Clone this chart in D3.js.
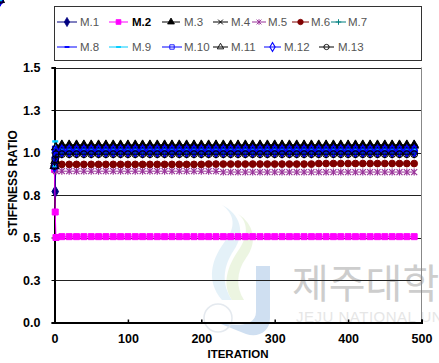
<!DOCTYPE html>
<html>
<head>
<meta charset="utf-8">
<script src="https://cdn.jsdelivr.net/npm/d3@7"></script>
<style>
  html, body { margin: 0; padding: 0; background: #fff; }
  svg { display: block; font-family: "Liberation Sans", Arial, sans-serif; }
</style>
</head>
<body>
<svg id="chart" width="439" height="363"></svg>
<script>
// ---- data ----
const iterations = [0, 1, 2, 10, 20, 30, 40, 50, 60, 70, 80, 90, 100, 110, 120, 130, 140, 150, 160, 170, 180, 190, 200,
  210, 220, 230, 240, 250, 260, 270, 280, 290, 300, 310, 320, 330, 340, 350, 360, 370, 380, 390, 400,
  410, 420, 430, 440, 450, 460, 470, 480, 490, 500];

const seriesNames = ["M.1", "M.2", "M.3", "M.4", "M.5", "M.6", "M.7", "M.8", "M.9", "M.10", "M.11", "M.12", "M.13"];

const m1 = [0.92, 0.77, 0.97,
  1.00, 1.00, 1.00, 1.00, 1.00, 1.00, 1.00, 1.00, 1.00, 1.00, 1.00, 1.00, 1.00, 1.00, 1.00, 1.00, 1.00, 1.00, 1.00, 1.00, 1.00, 1.00, 1.00, 1.00, 1.00,
  1.00, 1.00, 1.00, 1.00, 1.00, 1.00, 1.00, 1.00, 1.00, 1.00, 1.00, 1.00, 1.00, 1.00, 1.00, 1.00, 1.00, 1.00, 1.00, 1.00, 1.00, 1.00, 1.00, 1.00];
const m2 = [0.90, 0.65, 0.50,
  0.505, 0.505, 0.505, 0.505, 0.505, 0.505, 0.505, 0.505, 0.505, 0.505, 0.505, 0.505, 0.505, 0.505, 0.505, 0.505, 0.505, 0.505, 0.505, 0.505, 0.505, 0.505, 0.505,
  0.505, 0.505, 0.505, 0.505, 0.505, 0.505, 0.505, 0.505, 0.505, 0.505, 0.505, 0.505, 0.505, 0.505, 0.505, 0.505, 0.505, 0.505, 0.505, 0.505, 0.505, 0.505, 0.505, 0.505, 0.505, 0.505];
const m3 = [0.92, 0.95, 1.03,
  1.045, 1.045, 1.045, 1.045, 1.045, 1.045, 1.045, 1.045, 1.045, 1.045, 1.045, 1.045, 1.045, 1.045, 1.045, 1.045, 1.045, 1.045, 1.045, 1.045, 1.045, 1.045, 1.045,
  1.045, 1.045, 1.045, 1.045, 1.045, 1.045, 1.045, 1.045, 1.045, 1.045, 1.045, 1.045, 1.045, 1.045, 1.045, 1.045, 1.045, 1.045, 1.045, 1.045, 1.045, 1.045, 1.045, 1.045, 1.045, 1.045];
const m4 = [0.92, 0.96, 1.02,
  1.03, 1.03, 1.03, 1.03, 1.03, 1.03, 1.03, 1.03, 1.03, 1.03, 1.03, 1.03, 1.03, 1.03, 1.03, 1.03, 1.03, 1.03, 1.03, 1.03, 1.03, 1.03, 1.03,
  1.03, 1.03, 1.03, 1.03, 1.03, 1.03, 1.03, 1.03, 1.03, 1.03, 1.03, 1.03, 1.03, 1.03, 1.03, 1.03, 1.03, 1.03, 1.03, 1.03, 1.03, 1.03, 1.03, 1.03, 1.03, 1.03];
const m5 = [0.92, 0.90, 0.89,
  0.890, 0.890, 0.890, 0.890, 0.890, 0.890, 0.890, 0.890, 0.890, 0.890, 0.890, 0.890, 0.890, 0.890, 0.890, 0.890, 0.890, 0.890, 0.890, 0.890, 0.890, 0.890, 0.885,
  0.885, 0.885, 0.885, 0.885, 0.885, 0.885, 0.885, 0.885, 0.885, 0.885, 0.885, 0.885, 0.885, 0.885, 0.885, 0.885, 0.885, 0.885, 0.885, 0.885, 0.885, 0.885, 0.885, 0.885, 0.885, 0.885];
const m6 = [0.92, 0.93, 0.93,
  0.930, 0.930, 0.930, 0.930, 0.930, 0.930, 0.930, 0.930, 0.930, 0.930, 0.930, 0.930, 0.930, 0.930, 0.930, 0.930, 0.930, 0.930, 0.930, 0.930, 0.932, 0.932, 0.932,
  0.932, 0.932, 0.932, 0.932, 0.932, 0.932, 0.932, 0.932, 0.932, 0.932, 0.932, 0.932, 0.935, 0.935, 0.935, 0.935, 0.935, 0.935, 0.935, 0.935, 0.935, 0.935, 0.935, 0.935, 0.935, 0.935];
const m7 = [0.92, 1.00, 1.00,
  1.005, 1.005, 1.005, 1.005, 1.005, 1.005, 1.005, 1.005, 1.005, 1.005, 1.005, 1.005, 1.005, 1.005, 1.005, 1.005, 1.005, 1.005, 1.005, 1.005, 1.005, 1.005, 1.005,
  1.005, 1.005, 1.005, 1.005, 1.005, 1.005, 1.005, 1.005, 1.005, 1.005, 1.005, 1.005, 1.005, 1.005, 1.005, 1.005, 1.005, 1.005, 1.005, 1.005, 1.005, 1.005, 1.005, 1.005, 1.005, 1.005];
const m8 = [0.92, 0.97, 1.00,
  1.01, 1.01, 1.01, 1.01, 1.01, 1.01, 1.01, 1.01, 1.01, 1.01, 1.01, 1.01, 1.01, 1.01, 1.01, 1.01, 1.01, 1.01, 1.01, 1.01, 1.01, 1.01, 1.01,
  1.01, 1.01, 1.01, 1.01, 1.01, 1.01, 1.01, 1.01, 1.01, 1.01, 1.01, 1.01, 1.01, 1.01, 1.01, 1.01, 1.01, 1.01, 1.01, 1.01, 1.01, 1.01, 1.01, 1.01, 1.01, 1.01];
const m9 = [0.92, 1.065, 1.03,
  1.02, 1.02, 1.02, 1.02, 1.02, 1.02, 1.02, 1.02, 1.02, 1.02, 1.02, 1.02, 1.02, 1.02, 1.02, 1.02, 1.02, 1.02, 1.02, 1.02, 1.02, 1.02, 1.02,
  1.02, 1.02, 1.02, 1.02, 1.02, 1.02, 1.02, 1.02, 1.02, 1.02, 1.02, 1.02, 1.02, 1.02, 1.02, 1.02, 1.02, 1.02, 1.02, 1.02, 1.02, 1.02, 1.02, 1.02, 1.02, 1.02];
const m10 = [0.92, 1.02, 1.01,
  1.02, 1.02, 1.02, 1.02, 1.02, 1.02, 1.02, 1.02, 1.02, 1.02, 1.02, 1.02, 1.02, 1.02, 1.02, 1.02, 1.02, 1.02, 1.02, 1.02, 1.02, 1.02, 1.02,
  1.02, 1.02, 1.02, 1.02, 1.02, 1.02, 1.02, 1.02, 1.02, 1.02, 1.02, 1.02, 1.02, 1.02, 1.02, 1.02, 1.02, 1.02, 1.02, 1.02, 1.02, 1.02, 1.02, 1.02, 1.02, 1.02];
const m11 = [0.92, 0.95, 1.03,
  1.04, 1.04, 1.04, 1.04, 1.04, 1.04, 1.04, 1.04, 1.04, 1.04, 1.04, 1.04, 1.04, 1.04, 1.04, 1.04, 1.04, 1.04, 1.04, 1.04, 1.04, 1.04, 1.04,
  1.04, 1.04, 1.04, 1.04, 1.04, 1.04, 1.04, 1.04, 1.04, 1.04, 1.04, 1.04, 1.04, 1.04, 1.04, 1.04, 1.04, 1.04, 1.04, 1.04, 1.04, 1.04, 1.04, 1.04, 1.04, 1.04];
const m12 = [0.92, 0.97, 1.00,
  1.01, 1.01, 1.01, 1.01, 1.01, 1.01, 1.01, 1.01, 1.01, 1.01, 1.01, 1.01, 1.01, 1.01, 1.01, 1.01, 1.01, 1.01, 1.01, 1.01, 1.01, 1.01, 1.01,
  1.01, 1.01, 1.01, 1.01, 1.01, 1.01, 1.01, 1.01, 1.01, 1.01, 1.01, 1.01, 1.01, 1.01, 1.01, 1.01, 1.01, 1.01, 1.01, 1.01, 1.01, 1.01, 1.01, 1.01, 1.01, 1.01];
const m13 = [0.92, 0.96, 0.99,
  0.99, 0.99, 0.99, 0.99, 0.99, 0.99, 0.99, 0.99, 0.99, 0.99, 0.99, 0.99, 0.99, 0.99, 0.99, 0.99, 0.99, 0.99, 0.99, 0.99, 0.99, 0.99, 0.99,
  0.99, 0.99, 0.99, 0.99, 0.99, 0.99, 0.99, 0.99, 0.99, 0.99, 0.99, 0.99, 0.99, 0.99, 0.99, 0.99, 0.99, 0.99, 0.99, 0.99, 0.99, 0.99, 0.99, 0.99, 0.99, 0.99];

const seriesValues = [m1, m2, m3, m4, m5, m6, m7, m8, m9, m10, m11, m12, m13];

const yTickValues = [0, 0.25, 0.5, 0.75, 1.0, 1.25, 1.5];
const yTickLabels = ["0.0", "0.3", "0.5", "0.8", "1.0", "1.3", "1.5"];
const xTickValues = [0, 100, 200, 300, 400, 500];

// ---- styles ----
const seriesColors = ["#000080", "#FF00FF", "#000000", "#000000", "#993399", "#800000", "#008080",
  "#0000FF", "#00CCFF", "#0000FF", "#000000", "#0000FF", "#000000"];
const seriesMarkers = ["diamond", "square", "triangle", "x", "asterisk", "circle", "plus",
  "dash", "dash", "openSquare", "openTriangle", "openDiamond", "openCircle"];

// legend layout: [row, line start, line end, text x]
const legendSlots = [
  [0, 57, 77, 80], [0, 109, 128, 132], [0, 162, 180, 184], [0, 213, 228, 231],
  [0, 252, 266, 268], [0, 292, 309, 311], [0, 331, 346, 348],
  [1, 57, 77, 80], [1, 109, 128, 132], [1, 162, 182, 184], [1, 213, 228, 231],
  [1, 264, 281, 284], [1, 319, 334, 338]
];

const svg = d3.select("#chart");
const W = 439, H = 363;
const plot = { left: 54.5, right: 421.5, top: 67.5, bottom: 322.5 };

const x = d3.scaleLinear().domain([0, 500]).range([plot.left, plot.right]);
const y = d3.scaleLinear().domain([0, 1.5]).range([plot.bottom, plot.top]);

svg.append("rect").attr("width", W).attr("height", H).attr("fill", "#fff");

// ---- faint university watermark ----
const wm = svg.append("g").attr("class", "watermark").attr("opacity", 0.55);
wm.append("path")
  .attr("d", "M222,300 C205,280 212,258 226,240 C238,224 232,212 222,205 C240,214 246,232 234,250 C222,268 222,285 232,300 Z")
  .attr("fill", "#b9dcef").attr("opacity", 0.7);
wm.append("path")
  .attr("d", "M232,300 C220,282 230,262 240,248 C250,232 246,220 238,214 C254,224 258,242 246,258 C236,272 236,288 244,300 Z")
  .attr("fill", "#cfe6b4").attr("opacity", 0.7);
wm.append("path")
  .attr("d", "M256,266 L270,266 L270,318 C270,332 258,338 246,334 L216,322 C232,326 256,328 256,312 Z")
  .attr("fill", "#a9c6e6");
wm.append("circle").attr("cx", 218).attr("cy", 318).attr("r", 14)
  .attr("fill", "none").attr("stroke", "#cfd8e2").attr("stroke-width", 1.5);
wm.append("text").attr("x", 292).attr("y", 298)
  .attr("font-family", "'Noto Sans CJK KR', sans-serif").attr("font-size", 40)
  .attr("fill", "#a5a5a5").text("제주대학교");
wm.append("text").attr("x", 296).attr("y", 322)
  .attr("font-family", "'Liberation Sans', Arial, sans-serif").attr("font-size", 15)
  .attr("fill", "#d2d2d2").attr("letter-spacing", 0.5).text("JEJU NATIONAL UNIVERSITY");

// ---- gridlines ----
svg.append("g").selectAll("line")
  .data(yTickValues.filter(v => v > 0))
  .join("line")
  .attr("x1", plot.left).attr("x2", plot.right)
  .attr("y1", d => Math.round(y(d)) + 0.5).attr("y2", d => Math.round(y(d)) + 0.5)
  .attr("stroke", "#222").attr("stroke-width", 1);

// right border of the plot area
svg.append("line")
  .attr("x1", plot.right).attr("x2", plot.right)
  .attr("y1", plot.top).attr("y2", plot.bottom)
  .attr("stroke", "#888").attr("stroke-width", 1);

// ---- axes ----
const yAxis = d3.axisLeft(y)
  .tickValues(yTickValues)
  .tickFormat((d, i) => yTickLabels[i])
  .tickSize(3).tickPadding(11);
const gy = svg.append("g").attr("transform", `translate(${plot.left},0)`).call(yAxis);
gy.select(".domain").attr("stroke", "#000").attr("stroke-width", 2);
gy.selectAll(".tick line").attr("stroke", "#000");
gy.selectAll(".tick text").attr("font-size", 12.5).attr("font-weight", "bold")
  .attr("font-family", "'Liberation Sans', Arial, sans-serif").attr("fill", "#000");

const xAxis = d3.axisBottom(x).tickValues(xTickValues).tickFormat(d3.format("d"))
  .tickSize(-3).tickPadding(12);
const gx = svg.append("g").attr("transform", `translate(0,${plot.bottom})`).call(xAxis);
gx.select(".domain").attr("stroke", "#000").attr("stroke-width", 2);
gx.selectAll(".tick line").attr("stroke", "#000").attr("stroke-width", 1.5);
gx.selectAll(".tick text").attr("font-size", 12.5).attr("font-weight", "bold")
  .attr("font-family", "'Liberation Sans', Arial, sans-serif").attr("fill", "#000");

// axis titles
svg.append("text").attr("x", 238).attr("y", 358).attr("text-anchor", "middle")
  .attr("font-size", 11.5).attr("font-weight", "bold").text("ITERATION");
svg.append("text").attr("transform", "translate(17,183) rotate(-90)")
  .attr("text-anchor", "middle").attr("font-size", 12).attr("font-weight", "bold")
  .text("STIFFNESS RATIO");

// ---- markers ----
function drawMarker(g, type, color) {
  const sym = (shape, size) => d3.symbol().type(shape).size(size)();
  switch (type) {
    case "diamond":
      g.append("path").attr("d", sym(d3.symbolDiamond, 38)).attr("fill", color).attr("stroke", color); break;
    case "square":
      g.append("path").attr("d", sym(d3.symbolSquare, 36)).attr("fill", color).attr("stroke", color); break;
    case "triangle":
      g.append("path").attr("d", sym(d3.symbolTriangle, 32)).attr("fill", color).attr("stroke", color); break;
    case "circle":
      g.append("circle").attr("r", 3.4).attr("fill", color).attr("stroke", color); break;
    case "x":
      g.append("path").attr("d", "M-3,-3L3,3M-3,3L3,-3").attr("stroke", color).attr("stroke-width", 1.2).attr("fill", "none"); break;
    case "asterisk":
      g.append("path").attr("d", "M-3,-3L3,3M-3,3L3,-3M0,-3.5V3.5").attr("stroke", color).attr("stroke-width", 1.2).attr("fill", "none"); break;
    case "plus":
      g.append("path").attr("d", "M-3.5,0H3.5M0,-3.5V3.5").attr("stroke", color).attr("stroke-width", 1.2).attr("fill", "none"); break;
    case "dash":
      g.append("path").attr("d", "M-3,0H3").attr("stroke", color).attr("stroke-width", 2.4).attr("fill", "none"); break;
    case "openSquare":
      g.append("path").attr("d", sym(d3.symbolSquare, 30)).attr("fill", "none").attr("stroke", color).attr("stroke-width", 1.1); break;
    case "openTriangle":
      g.append("path").attr("d", sym(d3.symbolTriangle, 28)).attr("fill", "none").attr("stroke", color).attr("stroke-width", 1.1); break;
    case "openDiamond":
      g.append("path").attr("d", sym(d3.symbolDiamond, 36)).attr("fill", "none").attr("stroke", color).attr("stroke-width", 1.4); break;
    case "openCircle":
      g.append("circle").attr("r", 3.3).attr("fill", "none").attr("stroke", color).attr("stroke-width", 1.1); break;
  }
}

// ---- series ----
const line = d3.line().x(d => x(d[0])).y(d => y(d[1]));
const dataLayer = svg.append("g");
seriesValues.forEach((vals, s) => {
  const pts = iterations.map((it, i) => [it, vals[i]]);
  const g = dataLayer.append("g").attr("class", "series");
  g.append("path").datum(pts).attr("d", line)
    .attr("fill", "none").attr("stroke", seriesColors[s]).attr("stroke-width", 1);
  pts.forEach(p => {
    const mg = g.append("g").attr("transform", `translate(${x(p[0])},${y(p[1])})`);
    drawMarker(mg, seriesMarkers[s], seriesColors[s]);
  });
});

// ---- legend ----
const legend = svg.append("g");
legend.append("rect").attr("x", 54.5).attr("y", 6.5).attr("width", 367).attr("height", 54)
  .attr("fill", "#fff").attr("stroke", "#333").attr("stroke-width", 1);
const rowY = [22, 47];
seriesNames.forEach((name, s) => {
  const [row, x0, x1, tx] = legendSlots[s];
  const ly = rowY[row];
  legend.append("line").attr("x1", x0).attr("x2", x1).attr("y1", ly).attr("y2", ly)
    .attr("stroke", seriesColors[s]).attr("stroke-width", 1);
  drawMarker(legend.append("g").attr("transform", `translate(${(x0 + x1) / 2},${ly}) scale(0.8)`), seriesMarkers[s], seriesColors[s]);
  legend.append("text").attr("x", tx).attr("y", ly + 4)
    .attr("font-size", 11.5)
    .attr("font-weight", name === "M.2" ? "bold" : "normal")
    .attr("fill", name === "M.2" ? "#000" : "#555")
    .text(name);
});
</script>
</body>
</html>
